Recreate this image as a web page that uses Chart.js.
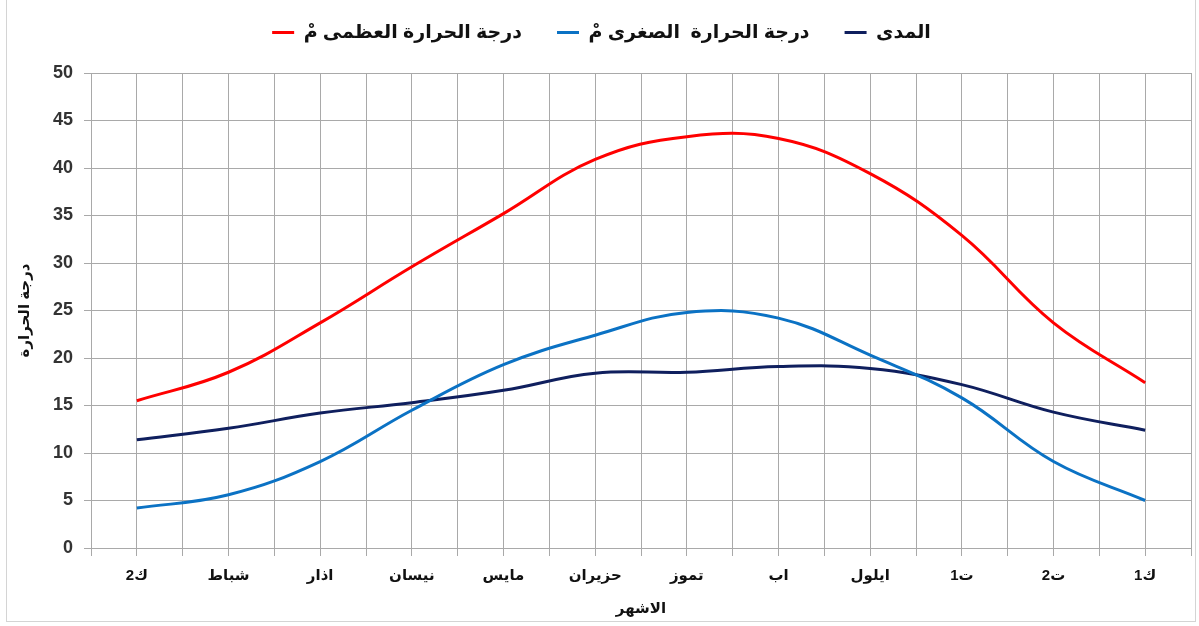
<!DOCTYPE html>
<html>
<head>
<meta charset="utf-8">
<script src="https://cdn.jsdelivr.net/npm/chart.js@4.4.1/dist/chart.umd.min.js"></script>
<style>
  html, body { margin: 0; padding: 0; background: #fff; }
  #wrap { position: relative; width: 1199px; height: 626px; }
  #frame { position: absolute; left: 6px; top: -1px; width: 1188px; height: 621px; border: 1px solid #d4d4d4; }
  #chart { position: absolute; left: 0; top: 0; }
</style>
</head>
<body>
<div id="wrap">
  <div id="frame"></div>
  <canvas id="chart" width="1199" height="626"></canvas>
</div>
<script>
// months, left to right as in the figure
const months = ['ك2', 'شباط', 'اذار', 'نيسان', 'مايس', 'حزيران', 'تموز', 'اب', 'ايلول', 'ت1', 'ت2', 'ك1'];
const maxTemp = [15.5, 18.5, 23.7, 29.6, 35.2, 40.9, 43.3, 43.1, 39.4, 32.9, 23.7, 17.4];
const minTemp = [4.2, 5.6, 9.1, 14.5, 19.3, 22.4, 24.8, 24.2, 20.3, 15.8, 9.1, 5.0];
const range = [11.4, 12.6, 14.2, 15.3, 16.6, 18.4, 18.5, 19.1, 18.9, 17.2, 14.3, 12.4];
const seriesNames = ['درجة الحرارة العظمى مْ', 'درجة الحرارة  الصغرى مْ', 'المدى'];
const yTicks = [0, 5, 10, 15, 20, 25, 30, 35, 40, 45, 50];

const FONT = "'Liberation Sans', 'DejaVu Sans', Arial, sans-serif";
const GRID = '#a9a9a9';

Chart.defaults.font.family = FONT;
Chart.defaults.color = '#333';

const toPoints = arr => arr.map((v, i) => ({ x: i, y: v }));

function line(label, data, color) {
  return {
    label,
    data: toPoints(data),
    borderColor: color,
    backgroundColor: color,
    borderWidth: 3,
    pointRadius: 0,
    fill: false,
    tension: 0.4,
  };
}

// leave more room between the legend and the plot
const legendGap = {
  id: 'legendGap',
  afterInit(chart) {
    const fit = chart.legend.fit;
    chart.legend.fit = function () {
      fit.call(this);
      this.height += 21;
    };
  }
};

new Chart(document.getElementById('chart').getContext('2d'), {
  type: 'line',
  data: {
    datasets: [
      line(seriesNames[0], maxTemp, '#ff0000'),
      line(seriesNames[1], minTemp, '#0b72c4'),
      line(seriesNames[2], range, '#0f1f5e'),
    ]
  },
  options: {
    responsive: false,
    animation: false,
    layout: { padding: { left: 12, right: 8, top: -12, bottom: 8 } },
    plugins: {
      legend: {
        position: 'top',
        labels: {
          usePointStyle: true,
          pointStyle: 'line',
          pointStyleWidth: 22,
          padding: 35,
          color: '#111',
          font: { size: 19, weight: 'bold' },
        },
      },
      tooltip: { enabled: false },
    },
    scales: {
      x: {
        type: 'linear',
        min: -0.5,
        max: 11.5,
        grid: { color: GRID, tickLength: 8 },
        border: { color: GRID },
        ticks: {
          stepSize: 0.5,
          autoSkip: false,
          maxRotation: 0,
          padding: 8,
          color: '#111',
          font: { size: 15, weight: 'bold', lineHeight: 1.6 },
          callback: v => Number.isInteger(v) ? months[v] : '',
        },
        title: { display: true, text: 'الاشهر', color: '#111', font: { size: 15, weight: 'bold' }, padding: { top: 4, bottom: 0 } },
      },
      y: {
        min: 0,
        max: 50,
        afterBuildTicks: s => { s.ticks = yTicks.map(v => ({ value: v })); },
        grid: { color: GRID, tickLength: 7 },
        border: { color: GRID },
        ticks: { padding: 11, color: '#333', font: { size: 18, weight: 'bold' } },
        title: { display: true, text: 'درجة الحرارة', color: '#111', font: { size: 15, weight: 'bold' } },
        afterFit: s => { s.width = 79; },
      }
    }
  },
  plugins: [legendGap]
});
</script>
</body>
</html>
